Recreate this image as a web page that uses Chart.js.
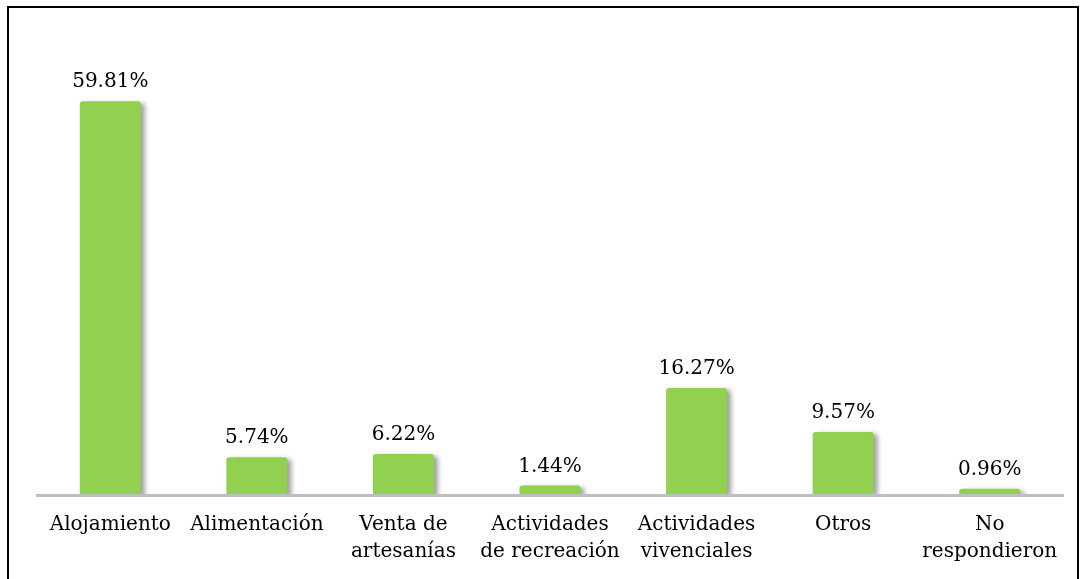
<!DOCTYPE html>
<html lang="es">
<head>
    <meta charset="UTF-8">
    <title>Servicios</title>
    <script src="https://cdn.jsdelivr.net/npm/chart.js@4.4.1/dist/chart.umd.min.js"></script>
    <style>
        body {
            margin: 0;
            background: #ffffff;
            overflow: hidden;
        }
        .frame {
            position: absolute;
            left: 7px;
            top: 6px;
            width: 1068px;
            height: 600px;
            border: 2px solid #000000;
            background: #ffffff;
        }
        .frame canvas {
            display: block;
        }
    </style>
</head>
<body>
    <div class="frame">
        <canvas id="chart" width="1068" height="600"></canvas>
    </div>

    <script>
        const categories = [
            'Alojamiento',
            'Alimentación',
            ['Venta de', 'artesanías'],
            ['Actividades', 'de recreación'],
            ['Actividades', 'vivenciales'],
            'Otros',
            ['No', 'respondieron']
        ];
        const percentages = [59.81, 5.74, 6.22, 1.44, 16.27, 9.57, 0.96];

        const FONT = '"DejaVu Serif", "Liberation Serif", serif';

        // soft grey shadow behind the bars
        const barShadow = {
            id: 'barShadow',
            beforeDatasetsDraw(chart) {
                const ctx = chart.ctx;
                ctx.save();
                ctx.shadowColor = 'rgba(0, 0, 0, 0.38)';
                ctx.shadowBlur = 5;
                ctx.shadowOffsetX = 4;
                ctx.shadowOffsetY = 2;
            },
            afterDatasetsDraw(chart) {
                chart.ctx.restore();
            }
        };

        // percentage text above each bar
        const valueLabels = {
            id: 'valueLabels',
            afterDatasetsDraw(chart) {
                const ctx = chart.ctx;
                const meta = chart.getDatasetMeta(0);
                ctx.save();
                ctx.font = '20px ' + FONT;
                ctx.fillStyle = '#000000';
                ctx.textAlign = 'center';
                ctx.textBaseline = 'alphabetic';
                meta.data.forEach((bar, i) => {
                    ctx.fillText(percentages[i].toFixed(2) + '%', bar.x, bar.y - 14);
                });
                ctx.restore();
            }
        };

        new Chart(document.getElementById('chart'), {
            type: 'bar',
            data: {
                labels: categories,
                datasets: [{
                    data: percentages,
                    backgroundColor: '#92D050',
                    borderWidth: 0,
                    borderRadius: { topLeft: 3, topRight: 3, bottomLeft: 0, bottomRight: 0 },
                    borderSkipped: 'start',
                    categoryPercentage: 1,
                    barPercentage: 0.416
                }]
            },
            options: {
                responsive: false,
                animation: false,
                layout: {
                    padding: { top: 92, left: 28, right: 14, bottom: 27 }
                },
                plugins: {
                    legend: { display: false },
                    tooltip: { enabled: false }
                },
                scales: {
                    x: {
                        grid: { display: false, drawTicks: false },
                        border: { display: true, color: '#BFBFBF', width: 3, z: 1 },
                        ticks: {
                            color: '#000000',
                            padding: 16,
                            maxRotation: 0,
                            autoSkip: false,
                            font: { family: FONT, size: 20, lineHeight: 1.35 }
                        }
                    },
                    y: {
                        display: false,
                        min: 0,
                        max: 60
                    }
                }
            },
            plugins: [barShadow, valueLabels]
        });
    </script>
</body>
</html>
